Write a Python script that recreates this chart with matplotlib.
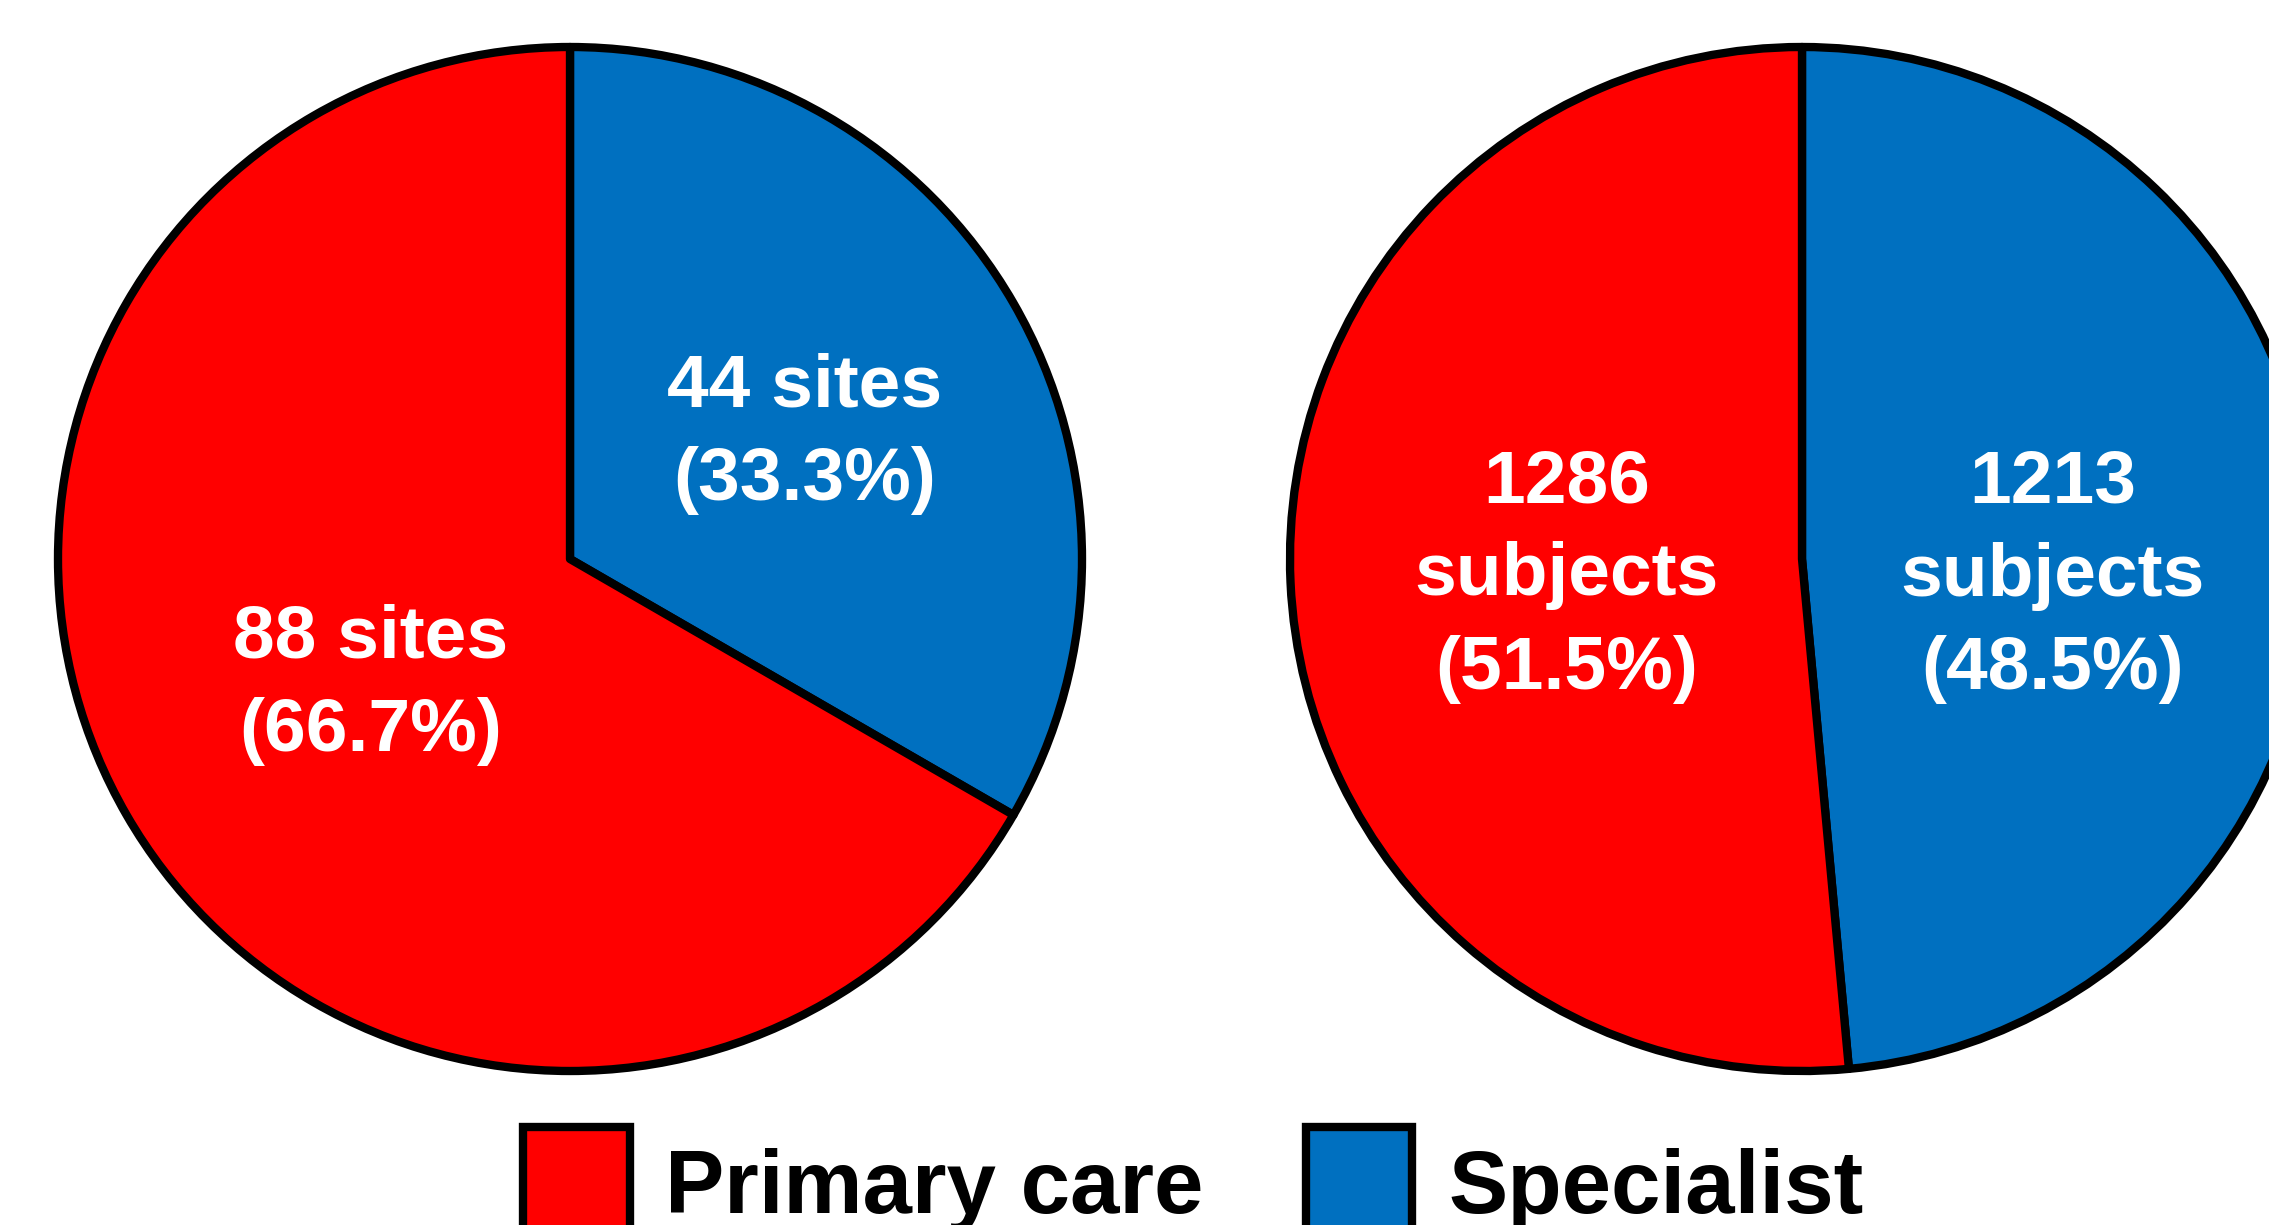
import matplotlib
matplotlib.use("Agg")
import matplotlib.pyplot as plt
from matplotlib.patches import Patch
import numpy as np

plt.rcParams['font.family'] = ['Liberation Sans', 'DejaVu Sans']

categories = ['Primary care', 'Specialist']
colors = ['#FF0000', '#0070C0']
sites = [88, 44]
subjects = [1286, 1213]

W, H = 2269, 1225
fig = plt.figure(figsize=(W / 100, H / 100), dpi=100)

R = 512  # pie radius in pixels


def pie_axes(cx, cy):
    return fig.add_axes([(cx - R) / W, (H - cy - R) / H, 2 * R / W, 2 * R / H])


def draw_pie(ax, values, unit, dists, dys):
    total = sum(values)
    # specialist drawn first, clockwise from 12 o'clock
    order = [1, 0]
    vals = [values[i] for i in order]
    cols = [colors[i] for i in order]
    wedges, _ = ax.pie(vals, colors=cols, startangle=90, counterclock=False,
                       radius=1, wedgeprops=dict(edgecolor='black', linewidth=6,
                                                 joinstyle='round', clip_on=False))
    for w, i, d, dy in zip(wedges, order, dists, dys):
        mid = np.deg2rad((w.theta1 + w.theta2) / 2)
        pct = 100 * values[i] / total
        ax.text(d * np.cos(mid), d * np.sin(mid) + dy, f"{values[i]}{unit}\n({pct:.1f}%)",
                color='white', fontsize=54, fontweight='bold', ha='center',
                va='center', linespacing=1.45)
    ax.set_xlim(-1, 1)
    ax.set_ylim(-1, 1)
    ax.axis('off')


ax1 = pie_axes(570, 559)
draw_pie(ax1, sites, " sites", [0.53, 0.45], [-0.02, -0.02])

ax2 = pie_axes(1802, 559)
draw_pie(ax2, subjects, "\nsubjects", [0.49, 0.46], [-0.057, -0.012])

handles = [Patch(facecolor=c, edgecolor='black', linewidth=6, joinstyle='round')
           for c in colors]
fig.legend(handles, categories, ncol=2, loc='upper left',
           bbox_to_anchor=(523 / W, 1 - 1127 / H), frameon=False,
           prop=dict(family='Liberation Sans', weight='bold', size=64),
           handlelength=1.2, handleheight=1.6, handletextpad=0.4,
           columnspacing=1.15, borderpad=0, borderaxespad=0)

fig.savefig("out.png", dpi=100)
